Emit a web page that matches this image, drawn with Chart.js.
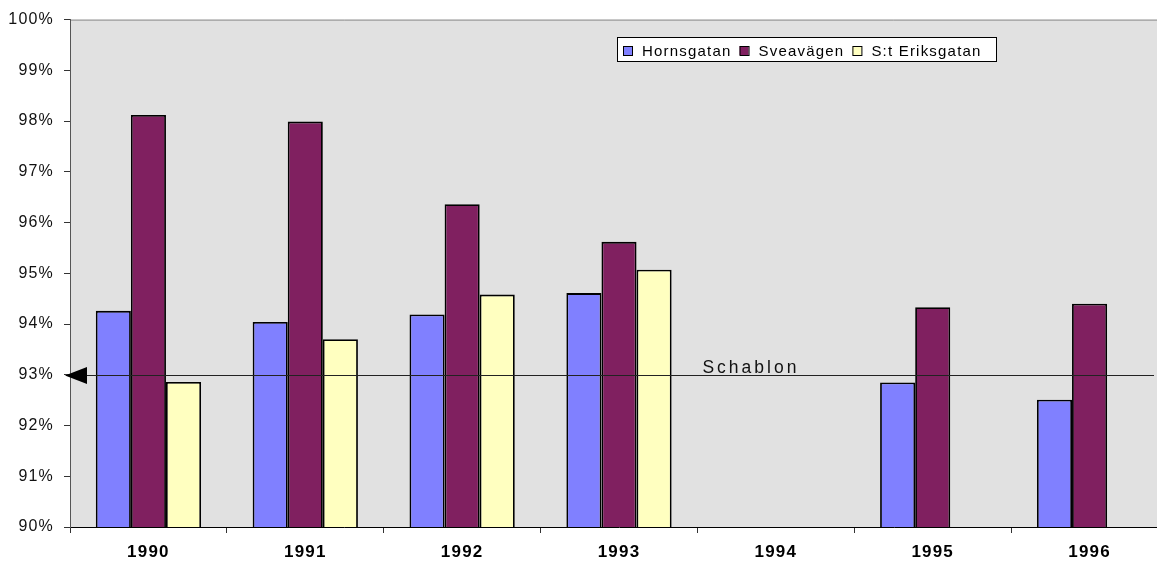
<!DOCTYPE html>
<html>
<head>
<meta charset="utf-8">
<script src="https://cdn.jsdelivr.net/npm/chart.js@4/dist/chart.umd.min.js"></script>
<style>
  html, body { margin: 0; padding: 0; background: #fff; overflow: hidden; width: 1157px; height: 561px; }
  #chart { display: block; }
</style>
</head>
<body>
<!-- the plot area runs a little past the right edge of the picture, as in the original -->
<canvas id="chart" width="1168" height="561"></canvas>
<script>
const years = ['1990', '1991', '1992', '1993', '1994', '1995', '1996'];
const hornsgatan = [94.26, 94.04, 94.19, 94.61, null, 92.85, 92.51];
const sveavagen = [98.12, 97.99, 96.36, 95.62, null, 94.33, 94.40];
const stEriksgatan = [92.86, 93.70, 94.58, 95.07, null, null, null];
const seriesNames = ['Hornsgatan', 'Sveavägen', 'S:t Eriksgatan'];
const seriesColors = ['#8080FF', '#802060', '#FFFFC0'];
const schablon = 93;
const schablonLabel = 'Schablon';
const yMin = 90;
const yMax = 100;

const FONT = "'Liberation Sans', Arial, sans-serif";

const background = {
    id: 'background',
    beforeDraw(chart) {
        const { ctx, chartArea: a, width, height } = chart;
        ctx.save();
        ctx.fillStyle = '#fff';
        ctx.fillRect(0, 0, width, height);
        ctx.fillStyle = '#E1E1E1';
        ctx.fillRect(a.left, a.top, a.right - a.left, a.bottom - a.top);
        ctx.strokeStyle = '#888';
        ctx.lineWidth = 1;
        ctx.beginPath();
        ctx.moveTo(a.left, a.top + 0.5);
        ctx.lineTo(width, a.top + 0.5);
        ctx.stroke();
        ctx.restore();
        // old-style wide letter spacing for axis text
        ctx.letterSpacing = '1.2px';
    }
};

const schablonLine = {
    id: 'schablonLine',
    afterDatasetsDraw(chart) {
        const { ctx, chartArea: a, scales } = chart;
        const y = Math.round(scales.y.getPixelForValue(schablon)) + 0.5;
        ctx.save();
        ctx.strokeStyle = '#222';
        ctx.lineWidth = 1;
        ctx.beginPath();
        ctx.moveTo(a.left - 4, y);
        ctx.lineTo(1154, y);
        ctx.stroke();
        // arrow head on the axis
        ctx.fillStyle = '#000';
        ctx.beginPath();
        ctx.moveTo(a.left - 5, y);
        ctx.lineTo(a.left + 17, y - 8.5);
        ctx.lineTo(a.left + 17, y + 8.5);
        ctx.closePath();
        ctx.fill();
        ctx.letterSpacing = '3px';
        ctx.font = '17.5px ' + FONT;
        ctx.fillStyle = '#111';
        ctx.textAlign = 'left';
        ctx.textBaseline = 'alphabetic';
        const x0 = (scales.x.getPixelForValue(3) + scales.x.getPixelForValue(4)) / 2;
        ctx.fillText(schablonLabel, x0 + 5, y - 3);
        ctx.restore();
    }
};

const boxLegend = {
    id: 'boxLegend',
    afterDraw(chart) {
        const { ctx } = chart;
        ctx.save();
        ctx.fillStyle = '#fff';
        ctx.fillRect(617, 37, 380, 25);
        ctx.strokeStyle = '#000';
        ctx.lineWidth = 1;
        ctx.strokeRect(617.5, 37.5, 379, 24);
        ctx.font = '15px ' + FONT;
        ctx.letterSpacing = '1.2px';
        ctx.textBaseline = 'alphabetic';
        let x = 623;
        chart.data.datasets.forEach(ds => {
            ctx.fillStyle = ds.backgroundColor;
            ctx.fillRect(x, 46, 9, 9);
            ctx.strokeStyle = '#000';
            ctx.strokeRect(x + 0.5, 46.5, 9, 9);
            ctx.fillStyle = '#000';
            ctx.fillText(ds.label, x + 19, 56);
            x += 19 + ctx.measureText(ds.label).width + 8;
        });
        ctx.restore();
    }
};

const data = {
    labels: years,
    datasets: [hornsgatan, sveavagen, stEriksgatan].map((values, i) => ({
        label: seriesNames[i],
        data: values,
        backgroundColor: seriesColors[i],
        borderColor: '#000',
        borderWidth: 1.8,
        categoryPercentage: 0.671,
        barPercentage: 1
    }))
};

const config = {
    type: 'bar',
    data: data,
    options: {
        responsive: false,
        animation: false,
        devicePixelRatio: 1,
        layout: {
            padding: { top: 19, right: 0, left: 0, bottom: 0 }
        },
        plugins: {
            legend: { display: false },
            tooltip: { enabled: false },
            title: { display: false }
        },
        scales: {
            x: {
                grid: {
                    offset: true,
                    drawOnChartArea: false,
                    tickLength: 6,
                    color: '#333'
                },
                border: { color: '#000' },
                ticks: {
                    color: '#000',
                    font: { family: FONT, size: 17, weight: 'bold' },
                    padding: 9,
                    maxRotation: 0
                },
                afterFit(s) { s.height = 34; }
            },
            y: {
                min: yMin,
                max: yMax,
                grid: {
                    drawOnChartArea: false,
                    tickLength: 6,
                    color: '#333'
                },
                border: { color: '#555' },
                ticks: {
                    stepSize: 1,
                    color: '#111',
                    font: { family: FONT, size: 16 },
                    padding: 10,
                    callback: v => v + '%'
                },
                afterFit(s) { s.width = 70; }
            }
        }
    },
    plugins: [background, schablonLine, boxLegend]
};

const myChart = new Chart(document.getElementById('chart'), config);
</script>
</body>
</html>
